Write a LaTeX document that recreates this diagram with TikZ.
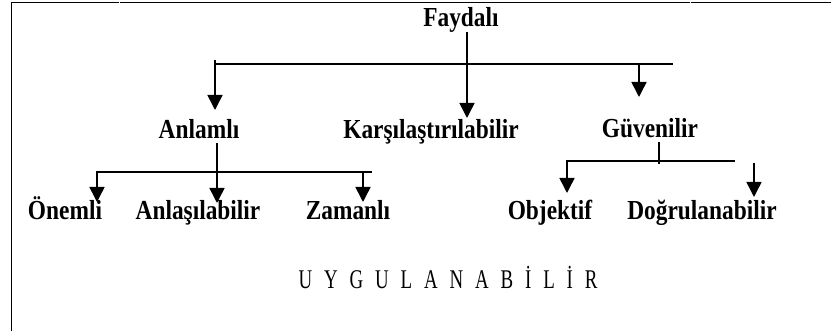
\documentclass[tikz,border=0pt]{standalone}
\usepackage{fontspec}
\usetikzlibrary{arrows.meta}
\newfontfamily\lblfont[FakeStretch=0.85]{Liberation Serif}
\newfontfamily\spfont[FakeStretch=0.7,LetterSpace=44]{Liberation Serif}
\tikzset{
  lbl/.style={font=\lblfont\bfseries\fontsize{27.5}{32}\selectfont, inner sep=0pt, anchor=base},
  sptext/.style={font=\spfont\fontsize{27}{31}\selectfont, inner sep=0pt, anchor=base},
  conn/.style={line width=1.5pt},
  arr/.style={line width=1.5pt, -{Triangle[width=15pt,length=15pt]}},
  frame/.style={line width=1.6pt}
}
\begin{document}
\begin{tikzpicture}[x=1pt,y=-1pt]
\useasboundingbox (0,0) rectangle (831,331);
% frame
\coordinate (f0) at (11.5,331);
\coordinate (f1) at (11.5,2.5);
\coordinate (f2) at (118.6,2.5);
\coordinate (f3) at (119.6,2.5);
\coordinate (f4) at (689.6,2.5);
\coordinate (f5) at (690.6,2.5);
\coordinate (f6) at (831,2.5);
\draw[frame] (f0) -- (f1) -- (f2);
\draw[frame] (f3) -- (f4);
\draw[frame] (f5) -- (f6);
% labels
\node[lbl] (faydali) at (461,27) {Faydalı};
\node[lbl] (anlamli) at (199,139) {Anlamlı};
\node[lbl] (karsi) at (431,139) {Karşılaştırılabilir};
\node[lbl] (guven) at (650,138) {Güvenilir};
\node[lbl] (onemli) at (65,220) {Önemli};
\node[lbl] (anlas) at (198,220) {Anlaşılabilir};
\node[lbl] (zaman) at (348,220) {Zamanlı};
\node[lbl] (objek) at (550,220) {Objektif};
\node[lbl] (dogru) at (702,220) {Doğrulanabilir};
\node[sptext] (uyg) at (448,289) {UYGULANABİLİR};
% level 1
\coordinate (fs) at (467,32);
\coordinate (kt) at (467,118);
\coordinate (b1l) at (215,64);
\coordinate (b1lt) at (215,60);
\coordinate (b1r) at (673,64);
\coordinate (at) at (215,110);
\coordinate (g1) at (639,64);
\coordinate (gt) at (639,97);
\draw[arr] (fs) -- (kt);
\draw[conn] (b1l) -- (b1r);
\draw[arr] (b1lt) -- (at);
\draw[arr] (g1) -- (gt);
% Anlamli branch
\coordinate (as) at (217,143);
\coordinate (ast) at (217,203);
\coordinate (b3l) at (97,172);
\coordinate (b3r) at (372,172);
\coordinate (ot) at (97,202);
\coordinate (z1) at (363,172);
\coordinate (zt) at (363,202);
\draw[conn] (b3l) -- (b3r);
\draw[arr] (as) -- (ast);
\draw[arr] ([yshift=0.75pt]b3l) -- (ot);
\draw[arr] (z1) -- (zt);
% Guvenilir branch
\coordinate (gs) at (659,142);
\coordinate (gb) at (659,164);
\coordinate (b2l) at (567,161);
\coordinate (b2r) at (735,161);
\coordinate (obt) at (567,193);
\coordinate (d1) at (754,163);
\coordinate (dt) at (754,197);
\draw[conn] (b2l) -- (b2r);
\draw[conn] (gs) -- (gb);
\draw[arr] ([yshift=0.75pt]b2l) -- (obt);
\draw[arr] (d1) -- (dt);
\end{tikzpicture}
\end{document}
